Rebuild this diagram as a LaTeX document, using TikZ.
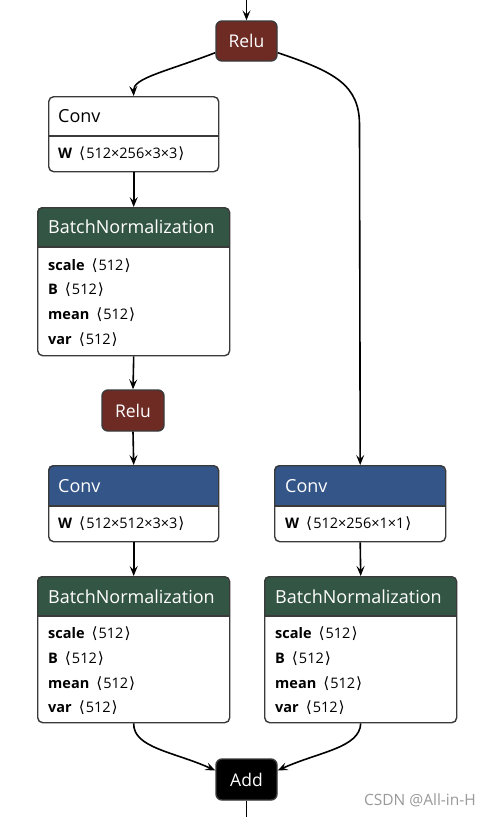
\documentclass[tikz,border=0pt]{standalone}
\usepackage{fontspec}
\setmainfont{Open Sans}
\newfontfamily\symf{DejaVu Sans}
\usetikzlibrary{arrows.meta,calc}
\definecolor{reluc}{HTML}{6E2B24}
\definecolor{bnc}{HTML}{335544}
\definecolor{convc}{HTML}{335588}
\definecolor{bordc}{HTML}{3A3A3A}
\newcommand\opbox[7]{%
  \begin{scope}
    \clip[rounded corners=5pt] (#2,#3) rectangle (#4,#5);
    \fill[#7] (#2,#3) rectangle (#4,#6);
  \end{scope}
  \draw[bordc, line width=1.4pt] (#2,#6) -- (#4,#6);
  \node[box, minimum width={(#4-#2)*1pt}, minimum height={(#5-#3)*1pt}] (#1) at (#2,#3) {};}
\newcommand\brk[1]{\hspace{7pt}{\symf\fontsize{15.5}{17}\selectfont ⟨}\hspace{1pt}#1\hspace{1pt}{\symf\fontsize{15.5}{17}\selectfont ⟩}}
\begin{document}
\begin{tikzpicture}[x=1pt,y=-1pt,
  box/.style={draw=bordc, line width=1.4pt, rounded corners=5pt, inner sep=0pt, anchor=north west},
  opnode/.style={draw=bordc, line width=1.4pt, rounded corners=6pt, inner sep=0pt, text=white, font=\fontsize{17.5}{20}\selectfont},
  arr/.style={-{Stealth[length=10pt,width=8pt,inset=4pt]}, line width=1.6pt},
  htext/.style={anchor=west, inner sep=0pt, font=\fontsize{18}{21}\selectfont},
  rtext/.style={anchor=west, inner sep=0pt, font=\fontsize{14.5}{17}\selectfont}]
\useasboundingbox[fill=white] (0,0) rectangle (490,817);

% operator nodes
\node[opnode, fill=reluc, minimum width=61pt, minimum height=40pt] (relu1) at (246.5,41) {Relu};
\node[opnode, fill=reluc, minimum width=62pt, minimum height=41pt] (relu2) at (133,410.5) {Relu};
\node[opnode, fill=black, minimum width=61pt, minimum height=41pt] (add) at (246.5,779.5) {Add};

% boxes
\opbox{conv1}{48}{96}{218}{171}{136}{white}
\opbox{bn1}{37}{207}{229}{355}{247}{bnc}
\opbox{conv2}{48}{465}{218}{541}{506}{convc}
\opbox{bn2}{37}{576}{229}{722}{616}{bnc}
\opbox{conv3}{274}{465}{445}{541}{506}{convc}
\opbox{bn3}{264}{576}{456}{722}{616}{bnc}

% texts
\node[htext] (c1h) at (58,116) {Conv};
\node[rtext] (c1w) at (58,154) {\textbf{W}\brk{512×256×3×3}};

\node[htext, text=white] (b1h) at (48,227) {BatchNormalization};
\node[rtext] (b1s) at (48,266) {\textbf{scale}\brk{512}};
\node[rtext] (b1b) at (48,290) {\textbf{B}\brk{512}};
\node[rtext] (b1m) at (48,315) {\textbf{mean}\brk{512}};
\node[rtext] (b1v) at (48,340) {\textbf{var}\brk{512}};

\node[htext, text=white] (c2h) at (58,486) {Conv};
\node[rtext] (c2w) at (58,524) {\textbf{W}\brk{512×512×3×3}};

\node[htext, text=white] (b2h) at (48,597) {BatchNormalization};
\node[rtext] (b2s) at (48,634) {\textbf{scale}\brk{512}};
\node[rtext] (b2b) at (48,659) {\textbf{B}\brk{512}};
\node[rtext] (b2m) at (48,684) {\textbf{mean}\brk{512}};
\node[rtext] (b2v) at (48,708) {\textbf{var}\brk{512}};

\node[htext, text=white] (c3h) at (285,486) {Conv};
\node[rtext] (c3w) at (285,524) {\textbf{W}\brk{512×256×1×1}};

\node[htext, text=white] (b3h) at (275,597) {BatchNormalization};
\node[rtext] (b3s) at (275,634) {\textbf{scale}\brk{512}};
\node[rtext] (b3b) at (275,659) {\textbf{B}\brk{512}};
\node[rtext] (b3m) at (275,684) {\textbf{mean}\brk{512}};
\node[rtext] (b3v) at (275,708) {\textbf{var}\brk{512}};

\node[anchor=east, inner sep=0pt, text=black!40, font=\fontsize{15.5}{18}\selectfont] (wm) at (476,800) {CSDN @All-in-H};

% connectors
\coordinate (top) at (246.5,0);
\coordinate (bot) at (246.5,817);
\draw[arr] (top) -- (relu1.north);
\draw[arr] ([yshift=9pt]relu1.south west) .. controls (165,72) and (133,78) .. (conv1.north);
\draw[arr] ([yshift=9pt]relu1.south east) .. controls (335,72) and (359.5,85) .. (359.5,125) -- (conv3.north);
\draw[arr] (conv1.south) -- (bn1.north);
\draw[arr] (bn1.south) -- (relu2.north);
\draw[arr] (relu2.south) -- (conv2.north);
\draw[arr] (conv2.south) -- (bn2.north);
\draw[arr] (conv3.south) -- (bn3.north);
\draw[arr] (bn2.south) .. controls (133,748) and (175,752) .. ([yshift=9pt]add.west);
\draw[arr] (bn3.south) .. controls (360,748) and (318,752) .. ([yshift=9pt]add.east);
\draw[line width=1.6pt] (add.south) -- (bot);
\end{tikzpicture}
\end{document}
